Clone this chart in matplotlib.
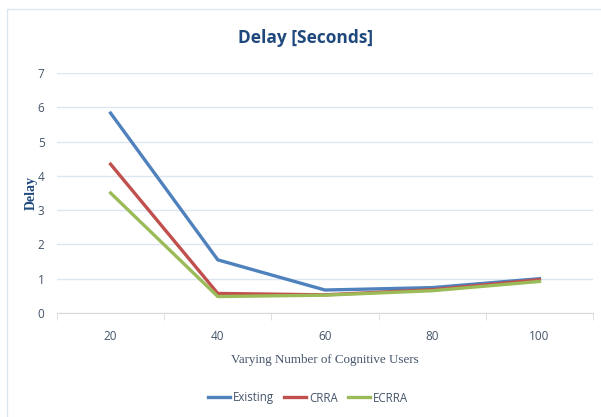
import matplotlib.pyplot as plt
from matplotlib.patches import Rectangle

users = ['20', '40', '60', '80', '100']
existing = [5.83, 1.55, 0.67, 0.74, 1.0]
crra = [4.34, 0.57, 0.53, 0.68, 0.97]
ecrra = [3.5, 0.48, 0.52, 0.65, 0.92]

text_col = '#44546A'
title_col = '#1F497D'
sans = 'Open Sans'

fig = plt.figure(figsize=(6.01, 4.17), dpi=100)
# outer chart border
fig.patches.append(Rectangle((7 / 601, -0.01), 1.0, 1 - 9 / 417 + 0.01,
                             transform=fig.transFigure, fill=False,
                             edgecolor='#DCE6F2', linewidth=1.0))

ax = fig.add_axes([57 / 601, 1 - 313 / 417, 536 / 601, 240 / 417])
x = range(len(users))
ax.plot(x, existing, color='#4F81BD', linewidth=2.4, label='Existing')
ax.plot(x, crra, color='#C0504D', linewidth=2.4, label='CRRA')
ax.plot(x, ecrra, color='#9BBB59', linewidth=2.4, label='ECRRA')

ax.set_xlim(-0.5, len(users) - 0.5)
ax.set_ylim(0, 7)
ax.set_yticks(range(0, 8))
ax.set_xticks(list(x))
ax.set_xticklabels(users)
ax.set_xticks([i - 0.5 for i in range(len(users) + 1)], minor=True)
ax.tick_params(axis='x', which='major', length=0, pad=12, labelsize=8.5, labelcolor=text_col)
ax.tick_params(axis='x', which='minor', length=5, color='#D9D9D9')
ax.tick_params(axis='y', length=0, pad=9, labelsize=8.5, labelcolor=text_col)
for lab in ax.get_xticklabels() + ax.get_yticklabels():
    lab.set_family(sans)

ax.grid(axis='y', color='#DCE6F2', linewidth=1)
ax.set_axisbelow(True)
for s in ['top', 'right', 'left']:
    ax.spines[s].set_visible(False)
ax.spines['bottom'].set_color('#D9D9D9')

ax.set_ylabel('Delay', family='Liberation Serif', fontweight='bold', fontsize=10,
              color=title_col, labelpad=0)
ax.set_xlabel('Varying Number of Cognitive Users', family='Liberation Serif',
              fontsize=9.4, color=text_col, labelpad=8)
fig.text(306 / 601, 1 - 38 / 417, 'Delay [Seconds]', ha='center', va='center',
         fontsize=12.5, fontweight='bold', color=title_col, family=sans)

leg = fig.legend(loc='center', bbox_to_anchor=(308 / 601, 1 - 398 / 417), ncol=3,
                 frameon=False, prop={'family': sans, 'size': 8.3},
                 handlelength=1.9, columnspacing=0.9, handletextpad=0.25)
for t in leg.get_texts():
    t.set_color(text_col)

fig.savefig('out.png', dpi=100)
